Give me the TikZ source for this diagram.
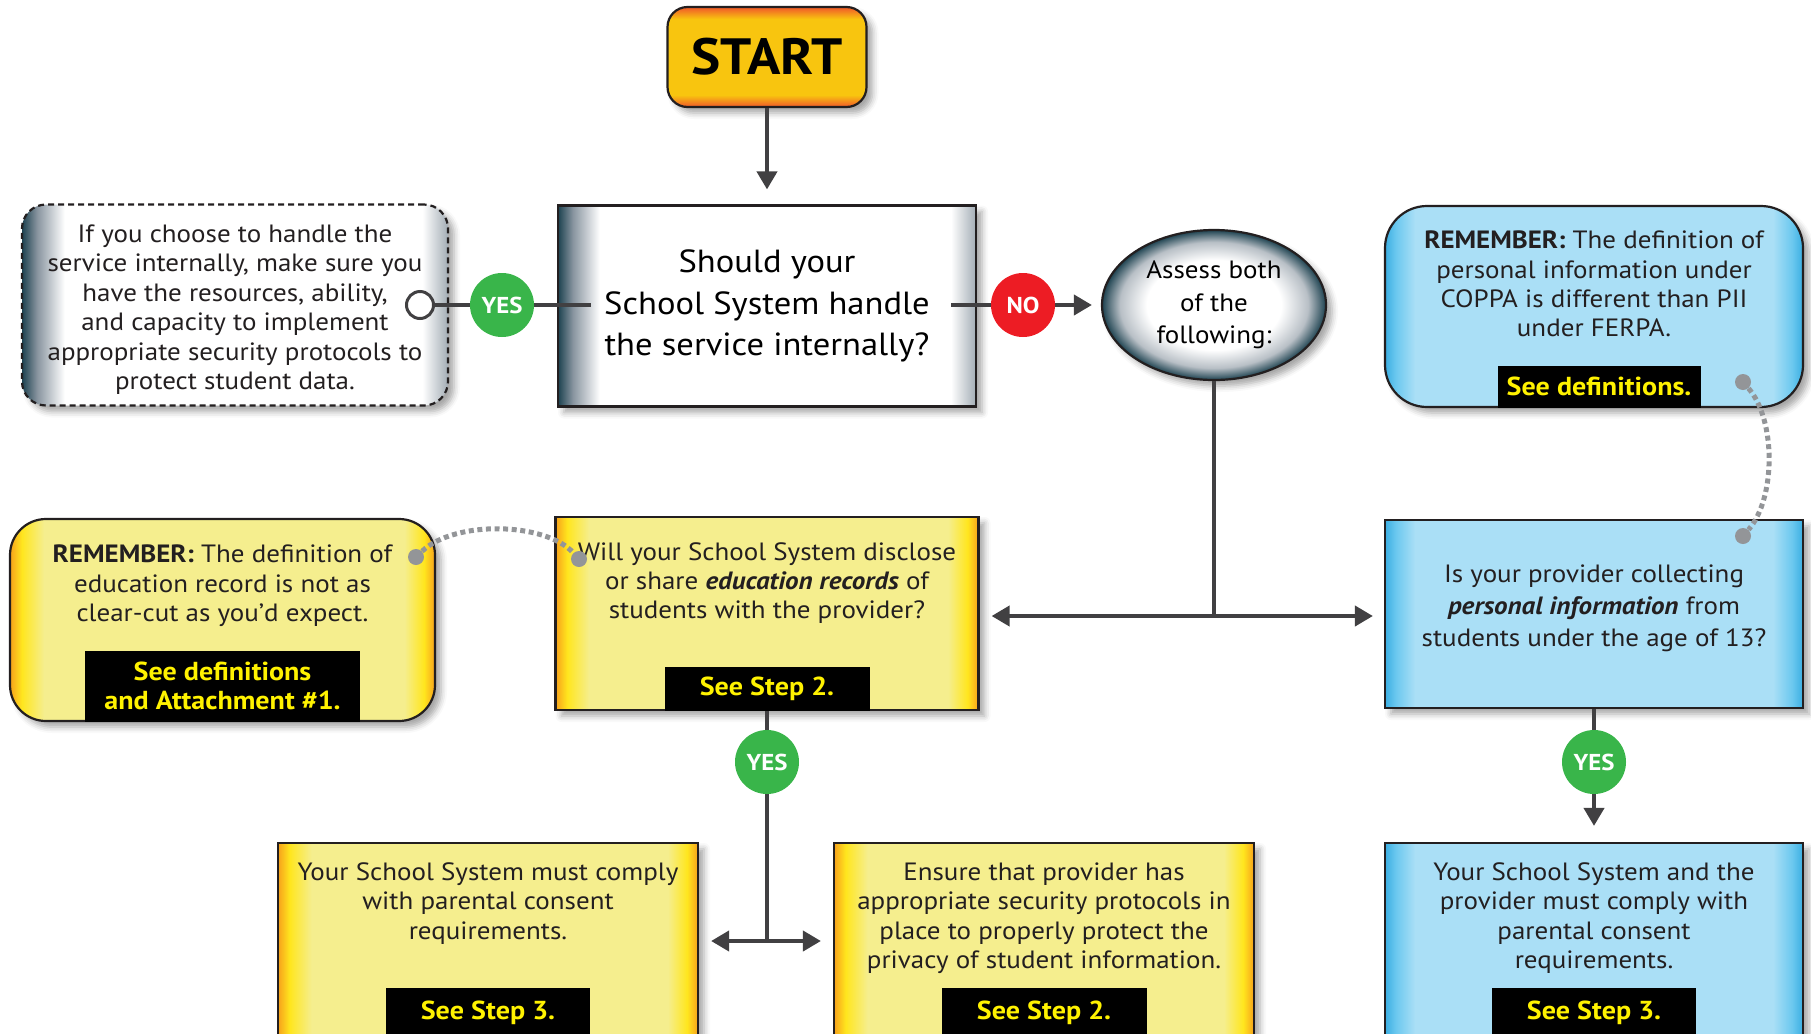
\documentclass[tikz,border=0pt]{standalone}
\usepackage{fontspec}
\setmainfont{PT Sans}[FakeStretch=1.08]
\usetikzlibrary{arrows.meta,positioning,shapes.geometric,shadows.blur}
\definecolor{ink}{HTML}{231F20}
\definecolor{wirec}{HTML}{414042}
\definecolor{dotc}{HTML}{939598}
\definecolor{yedge}{HTML}{F7A11B}
\definecolor{ybright}{HTML}{FFE61E}
\definecolor{ypale}{HTML}{F5EE8E}
\definecolor{bedge}{HTML}{3AAEE2}
\definecolor{bmid}{HTML}{6BC8EF}
\definecolor{bpale}{HTML}{AADFF6}
\definecolor{wedge}{HTML}{1D4250}
\definecolor{wmid}{HTML}{8995A0}
\definecolor{wright}{HTML}{A3ADB5}
\definecolor{syel}{HTML}{F8C50F}
\definecolor{sred}{HTML}{F0582A}
\definecolor{okgreen}{HTML}{39B54A}
\definecolor{nored}{HTML}{ED1C24}
\definecolor{hilite}{HTML}{FFF200}
% edge-darkened fills
\pgfdeclarehorizontalshading{yshade}{100bp}{color(0bp)=(yedge); color(25bp)=(yedge); color(26.4bp)=(ybright); color(29bp)=(ypale); color(71.4bp)=(ypale); color(73.7bp)=(ybright); color(75bp)=(yedge); color(100bp)=(yedge)}
\pgfdeclarehorizontalshading{bshade}{100bp}{color(0bp)=(bedge); color(25bp)=(bedge); color(26.3bp)=(bmid); color(28.6bp)=(bpale); color(71.4bp)=(bpale); color(73.7bp)=(bmid); color(75bp)=(bedge); color(100bp)=(bedge)}
\pgfdeclarehorizontalshading{wshade}{100bp}{color(0bp)=(wedge); color(25bp)=(wedge); color(26.8bp)=(wmid); color(30bp)=(white); color(72bp)=(white); color(75bp)=(wright); color(100bp)=(wright)}
\pgfdeclareverticalshading{sshade}{100bp}{color(0bp)=(sred); color(25bp)=(sred); color(31bp)=(syel); color(69bp)=(syel); color(75bp)=(sred); color(100bp)=(sred)}
\pgfdeclareradialshading{eshade}{\pgfpoint{0bp}{0bp}}{color(0bp)=(white); color(15bp)=(white); color(21bp)=(wmid!60); color(25bp)=(wedge); color(50bp)=(wedge)}
\tikzset{
  txt/.style={align=center,font=\fontsize{12.5}{14.7}\selectfont,text=ink,inner sep=0pt},
  panel/.style={draw=ink,line width=1.1pt,inner sep=0pt,blur shadow={shadow xshift=3pt,shadow yshift=-3pt,shadow blur radius=3pt,shadow opacity=35}},
  wbox/.style={panel,shading=wshade,minimum width=209pt,minimum height=100.5pt,align=center,font=\fontsize{16}{20.7}\selectfont},
  ybox/.style={panel,shading=yshade,minimum width=210pt,minimum height=98.5pt},
  cbox/.style={panel,shading=bshade,minimum width=209pt,minimum height=98.5pt},
  notebox/.style={panel,dashed,dash pattern=on 3pt off 2pt,rounded corners=12pt,shading=wshade,minimum width=213pt,minimum height=100.5pt},
  startbox/.style={panel,rounded corners=10pt,shading=sshade,minimum width=99.5pt,minimum height=50pt,font=\bfseries\fontsize{25.5}{27}\selectfont},
  ell/.style={ellipse,panel,shading=eshade,minimum width=112pt,minimum height=75pt,align=center,font=\fontsize{12.5}{16.2}\selectfont},
  seelbl/.style={fill=black,text=hilite,font=\bfseries\fontsize{13}{14.5}\selectfont,inner sep=0pt,align=center},
  nd/.style={circle,minimum size=32pt,inner sep=0pt,text=white,font=\bfseries\fontsize{11.5}{12}\selectfont},
  yesnd/.style={nd,fill=okgreen},
  nond/.style={nd,fill=nored},
  ring/.style={circle,draw=wirec,line width=1.5pt,fill=white,minimum size=13.5pt,inner sep=0pt},
  knob/.style={circle,fill=dotc,minimum size=8pt,inner sep=0pt},
  wire/.style={draw=wirec,line width=2pt},
  ar/.style={wire,-{Triangle[length=9pt,width=10pt]}},
  ar2/.style={wire,{Triangle[length=9pt,width=10pt]}-{Triangle[length=9pt,width=10pt]}},
  dots/.style={draw=dotc,line width=2.5pt,dash pattern=on 2.5pt off 1.8pt},
}

\begin{document}
\begin{tikzpicture}[x=0.5pt,y=-0.5pt]
  \clip (0,0) rectangle (1811,1034);
  % first row
  \node[startbox] (start) at (767,57) {START};
  \node[wbox] (q1) at (767,306) {Should your\\School System handle\\the service internally?};
  \node[notebox] (note) at (235,305) {};
  \node[txt,below=10.5pt of note.north] (notetxt) {If you choose to handle the\\service internally, make sure you\\have the resources, ability,\\and capacity to implement\\appropriate security protocols to\\protect student data.};
  \node[ring] (hook) at (420,305) {};
  \node[ell] (assess) at (1214,305) {Assess both\\of the\\following:};
  \node[cbox,rounded corners=21pt,minimum height=100.5pt] (remcop) at (1594,306.5) {};
  \node[txt,below=12.8pt of remcop.north] (remcoptxt) {\textbf{REMEMBER:} The definition of\\personal information under\\COPPA is different than PII\\under FERPA.};
  \node[seelbl,minimum width=101.5pt,minimum height=21pt,anchor=south,xshift=2.5pt] (defs1) at (remcop.south) {See definitions.};
  % second row
  \node[ybox,rounded corners=18pt,minimum width=212.5pt,minimum height=101pt] (remedu) at (222.5,620) {};
  \node[txt,below=13.3pt of remedu.north] (remedutxt) {\textbf{REMEMBER:} The definition of\\education record is not as\\clear-cut as you’d expect.};
  \node[seelbl,minimum width=137.5pt,minimum height=35.5pt,anchor=south] (defs2) at (remedu.south) {See definitions\\and Attachment \#1.};
  \node[ybox,minimum width=211.5pt,minimum height=96.5pt] (q2) at (767,613.5) {};
  \node[txt,below=13pt of q2.north] (q2txt) {Will your School System disclose\\or share \textbf{\textit{education records}} of\\students with the provider?};
  \node[seelbl,minimum width=102.5pt,minimum height=22pt,anchor=south] (step2a) at (q2.south) {See Step 2.};
  \node[cbox,minimum height=94pt] (q3) at (1594,614) {};
  \node[txt,below=22.8pt of q3.north,font=\fontsize{12.5}{16}\selectfont] (q3txt) {Is your provider collecting\\\textbf{\textit{personal information}} from\\students under the age of 13?};
  % third row
  \node[ybox] (b1) at (488,941.5) {};
  \node[txt,below=10.2pt of b1.north] (b1txt) {Your School System must comply\\with parental consent\\requirements.};
  \node[seelbl,minimum width=102pt,minimum height=25pt,below=73pt of b1.north] (step3a) {See Step 3.};
  \node[ybox] (b2) at (1044,941.5) {};
  \node[txt,below=10.2pt of b2.north] (b2txt) {Ensure that provider has\\appropriate security protocols in\\place to properly protect the\\privacy of student information.};
  \node[seelbl,minimum width=102.5pt,minimum height=25pt,below=73pt of b2.north] (step2b) {See Step 2.};
  \node[cbox] (b3) at (1594,941.5) {};
  \node[txt,below=10.2pt of b3.north] (b3txt) {Your School System and the\\provider must comply with\\parental consent\\requirements.};
  \node[seelbl,minimum width=102pt,minimum height=25pt,below=73pt of b3.north] (step3b) {See Step 3.};
  % connectors
  \coordinate (split) at (1214,616);
  \coordinate (fork) at (767,941);
  \draw[ar,shorten >=7.5pt] (start) -- (q1);
  \draw[wire] (hook) -- ([xshift=17pt]hook -| q1.west);
  \draw[ar,shorten >=4.5pt] ([xshift=-13pt]hook -| q1.east) -- (assess);
  \draw[wire] (assess) -- (split);
  \draw[ar,shorten >=6pt] (split) -- (split -| q2.east);
  \draw[ar,shorten >=5.5pt] (split) -- (split -| q3.west);
  \draw[wire] (q2) -- (fork);
  \draw[ar2,shorten <=6pt,shorten >=6pt] (fork -| b1.east) -- (fork -| b2.west);
  \draw[ar,shorten >=8pt] (q3) -- (b3);
  \node[yesnd] (yes1) at (502,305) {YES};
  \node[nond] (no1) at (1023,305) {NO};
  \node[yesnd] (yes2) at (767,762) {YES};
  \node[yesnd] (yes3) at (1594,762) {YES};
  % dotted references
  \node[knob] (k1) at (1743,382) {};
  \node[knob] (k2) at (1743,536) {};
  \draw[dots] (k1) .. controls (1776,420) and (1776,498) .. (k2);
  \node[knob] (k3) at (416,557) {};
  \node[knob] (k4) at (579,559) {};
  \draw[dots] (k3) .. controls (455,520) and (545,522) .. (k4);
\end{tikzpicture}
\end{document}
